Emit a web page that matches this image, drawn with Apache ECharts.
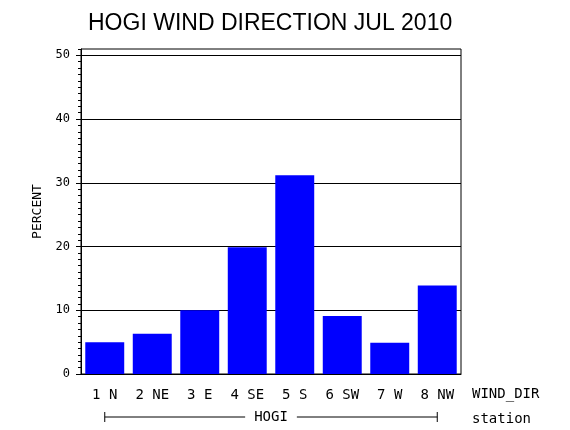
<!DOCTYPE html>
<html>
<head>
    <meta charset="UTF-8">
    <title>HOGI WIND DIRECTION JUL 2010</title>
    <script src="https://cdn.jsdelivr.net/npm/echarts@6/dist/echarts.min.js"></script>
</head>
<body style="margin: 0; background-color: white;">
<div id="chart" style="width: 570px; height: 430px;"></div>

<script>
    // 풍향별 비율 (%)
    const categories = ['1 N', '2 NE', '3 E', '4 SE', '5 S', '6 SW', '7 W', '8 NW'];
    const percentValues = [5.0, 6.3, 10.0, 19.9, 31.2, 9.1, 4.9, 13.9];
    const yTickValues = [0, 10, 20, 30, 40, 50];
    const groupLabel = 'HOGI';

    const MONO = '"DejaVu Sans Mono", monospace';

    const myChart = echarts.init(document.getElementById('chart'), null, { renderer: 'canvas' });

    const option = {
        animation: false,
        backgroundColor: '#fff',
        title: {
            text: 'HOGI WIND DIRECTION JUL 2010',
            left: 83,
            top: 7,
            textStyle: {
                fontFamily: '"Liberation Sans", Arial, sans-serif',
                fontSize: 23,
                fontWeight: 'normal',
                color: '#000'
            }
        },
        grid: {
            left: 81,
            right: 109,
            top: 49,
            bottom: 56,
            show: true,
            borderColor: '#000',
            borderWidth: 1
        },
        xAxis: {
            type: 'category',
            data: categories,
            axisLine: { lineStyle: { color: '#000', width: 1 } },
            axisTick: { show: false },
            axisLabel: {
                margin: 14,
                color: '#000',
                fontFamily: MONO,
                fontSize: 14
            }
        },
        yAxis: [
            {
                type: 'value',
                min: 0,
                max: 51,
                interval: 10,
                name: 'PERCENT',
                nameLocation: 'middle',
                nameGap: 37,
                nameTextStyle: { color: '#000', fontFamily: MONO, fontSize: 13 },
                axisLine: { show: true, lineStyle: { color: '#000', width: 1 } },
                axisTick: { show: true, length: 5, customValues: yTickValues, lineStyle: { color: '#000' } },
                axisLabel: {
                    margin: 11,
                    color: '#000',
                    fontFamily: MONO,
                    fontSize: 12,
                    customValues: yTickValues
                },
                splitLine: { show: true, lineStyle: { color: '#000', width: 1 } }
            },
            {
                // 보조 눈금
                type: 'value',
                position: 'left',
                min: 0,
                max: 51,
                interval: 1,
                axisLine: { show: false },
                axisTick: { show: true, length: 3, lineStyle: { color: '#000' } },
                axisLabel: { show: false },
                splitLine: { show: false }
            }
        ],
        series: [
            {
                type: 'bar',
                data: percentValues,
                barCategoryGap: '18%',
                itemStyle: { color: '#0000ff' }
            }
        ]
    };

    myChart.setOption(option);

    // 그룹 표시선 (HOGI)
    const x1 = myChart.convertToPixel({ xAxisIndex: 0 }, categories[0]);
    const x2 = myChart.convertToPixel({ xAxisIndex: 0 }, categories[categories.length - 1]);
    const gy = 417;
    const lineStyle = { stroke: '#000', lineWidth: 1 };

    myChart.setOption({
        graphic: [
            { type: 'line', shape: { x1: x1, y1: gy, x2: x2, y2: gy }, style: lineStyle },
            { type: 'line', shape: { x1: x1, y1: gy - 5, x2: x1, y2: gy + 5 }, style: lineStyle },
            { type: 'line', shape: { x1: x2, y1: gy - 5, x2: x2, y2: gy + 5 }, style: lineStyle },
            {
                type: 'text',
                x: (x1 + x2) / 2,
                y: gy,
                style: {
                    text: groupLabel,
                    fill: '#000',
                    font: '14px ' + MONO,
                    align: 'center',
                    verticalAlign: 'middle',
                    backgroundColor: '#fff',
                    padding: [0, 9]
                }
            },
            {
                type: 'text',
                x: 472,
                y: 394,
                style: { text: 'WIND_DIR', fill: '#000', font: '14px ' + MONO, align: 'left', verticalAlign: 'middle' }
            },
            {
                type: 'text',
                x: 472,
                y: 419,
                style: { text: 'station', fill: '#000', font: '14px ' + MONO, align: 'left', verticalAlign: 'middle' }
            }
        ]
    });
</script>
</body>
</html>
